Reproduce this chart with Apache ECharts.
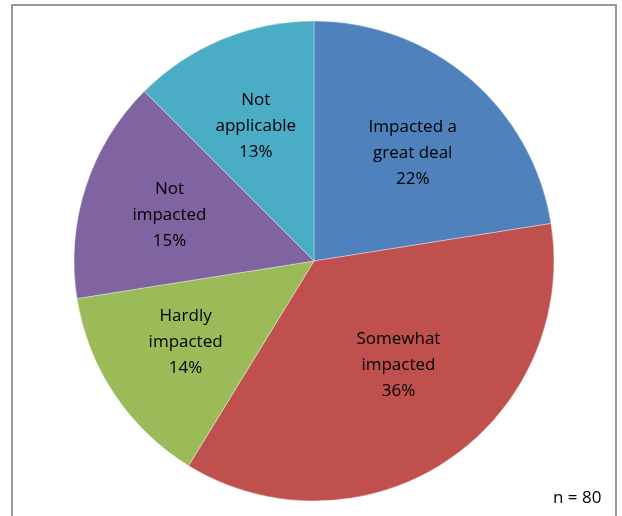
<!DOCTYPE html>
<html><head><meta charset="utf-8">
<script src="https://cdn.jsdelivr.net/npm/echarts@6/dist/echarts.min.js"></script>
<style>html,body{margin:0;padding:0;background:#fff}#c{width:622px;height:516px}</style>
</head><body><div id="c"></div>
<script>
const categories = ["Impacted a\ngreat deal", "Somewhat\nimpacted", "Hardly\nimpacted", "Not\nimpacted", "Not\napplicable"];
const values = [22.5, 36.25, 13.75, 15, 12.5];
const pctLabels = ["22%", "36%", "14%", "15%", "13%"];
const colors = ["#4F81BD", "#C0504D", "#9BBB59", "#8064A2", "#4BACC6"];
const note = "n = 80";

// label nudges (style only)
const labelNudge = [[0, 8], [0, -22], [-2, -3], [0, 1], [0, 6]];

const data = categories.map((c, i) => ({
  name: c, value: values[i], pct: pctLabels[i],
  label: { offset: labelNudge[i] }
}));
const chart = echarts.init(document.getElementById('c'), null, { renderer: 'canvas' });
const font = '"Open Sans", Lato, sans-serif';
chart.setOption({
  animation: false,
  color: colors,
  graphic: [
    { type: 'rect', shape: { x: 12, y: 5, width: 604, height: 530 }, style: { fill: 'none', stroke: '#999', lineWidth: 2 }, z: 0 },
    { type: 'text', left: 553, top: 490, style: { text: note, font: '17px ' + font, fill: '#000' } }
  ],
  series: [
    {
      type: 'pie', center: [314, 261], radius: [0, 240], startAngle: 90, clockwise: true,
      data: categories.map((c, i) => ({ name: c, value: values[i] })), label: { show: false }, labelLine: { show: false },
      itemStyle: { borderColor: 'rgba(255,255,255,0.35)', borderWidth: 1 }, silent: true
    },
    {
      type: 'pie', center: [314, 261], radius: [58, 240], startAngle: 90, clockwise: true,
      data: data, silent: true,
      itemStyle: { color: 'rgba(0,0,0,0)' },
      label: {
        show: true, position: 'inside', color: '#000', fontFamily: font, fontSize: 17, lineHeight: 26,
        formatter: p => p.name + '\n' + p.data.pct
      },
      labelLine: { show: false }
    }
  ]
});
</script></body></html>
